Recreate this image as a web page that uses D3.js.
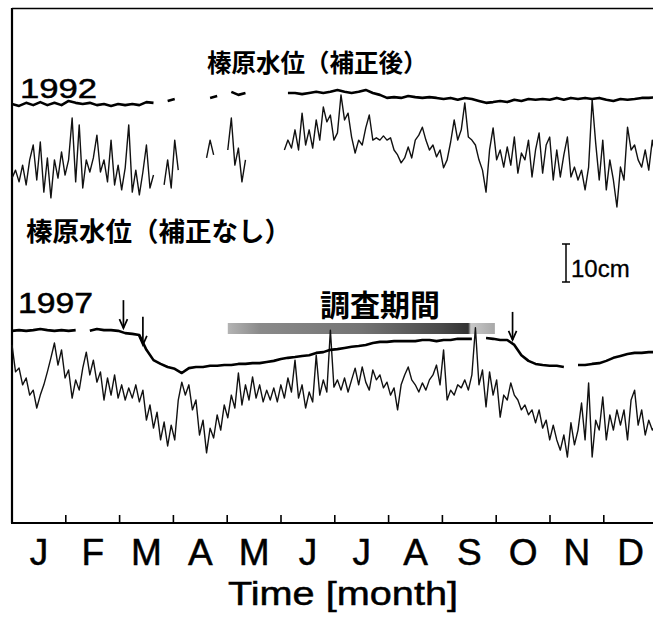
<!DOCTYPE html>
<html>
<head>
<meta charset="utf-8">
<script src="https://cdn.jsdelivr.net/npm/d3@7"></script>
<style>
  body { margin: 0; background: #fff; }
  text { font-family: "Liberation Sans", Arial, sans-serif; fill: #000; }
  .lat { stroke: #000; stroke-width: 0.5; }
  .jp { font-family: "Noto Sans CJK JP", sans-serif; }
</style>
</head>
<body>
<svg id="chart" width="653" height="623"></svg>
<script>
// month labels on the x axis
const MONTHS = ["J", "F", "M", "A", "M", "J", "J", "A", "S", "O", "N", "D"];

// uncorrected water level (cm, figure scale), one value every 2 days from 1 Jan
const RAW_1992 = [
  90.5, 92.6, 89.5, 93.9, 88.7, 95.3, 99.2, 90.0, 100.0, 86.8,
  95.8, 85.3, 95.3, 90.5, 97.4, 91.3, 95.3, 106.3, 89.5, 104.5,
  87.9, 95.3, 92.1, 95.8, 101.8, 92.1, 95.3, 89.5, 100.5, 88.7,
  93.9, 87.4, 93.2, 104.5, 86.8, 92.6, 86.1, 92.1, 99.2, 87.9,
  91.3, null, null, 88.7, 95.3, 87.9, 100.5, 92.6, null, null,
  null, null, null, null, null, 95.8, 100.5, 96.6, null, null,
  null, 97.9, 106.3, 93.9, 98.4, 89.5, 95.3, null, null, null,
  null, null, null, null, null, null, null, 97.9, 100.5, 98.4,
  103.2, 97.9, 107.6, 99.2, 103.2, 98.4, 105.8, 100.5, 109.2, 105.3,
  107.1, 100.5, 102.4, 112.4, 105.8, 107.6, 101.3, 97.1, 100.5, 99.2,
  103.7, 107.1, 100.5, 101.1, 100.5, 101.6, 100.5, 101.1, 97.9, 96.6,
  94.5, 95.8, 98.7, 95.8, 100.5, 101.8, 103.9, 100.5, 97.9, 99.2,
  96.1, 97.9, 93.2, 95.3, 100.0, 105.8, 100.5, 103.2, 110.3, 101.3,
  100.5, 99.2, 95.3, 92.6, 86.8, 97.9, 103.7, 95.3, 97.9, 93.4,
  98.7, 93.9, 101.3, 91.8, 97.1, 95.3, 100.5, 90.8, 97.9, 102.4,
  91.8, 99.2, 101.3, 90.0, 97.9, 90.8, 96.6, 101.3, 90.8, 93.4,
  90.0, 92.6, 87.4, 93.4, 111.1, 99.7, 90.0, 100.5, 87.4, 95.3,
  90.0, 82.9, 93.4, 90.0, 103.9, 97.9, 99.2, 95.3, 93.4, 97.9,
  92.6, 100.5, 95.3
];

const RAW_1997 = [
  46.6, 39.5, 40.5, 36.1, 37.9, 33.4, 34.7, 30.0, 33.4, 36.1,
  39.5, 43.2, 47.1, 41.3, 45.3, 37.9, 40.0, 32.6, 37.4, 34.7,
  40.5, 44.7, 38.7, 42.6, 36.8, 39.5, 32.1, 37.9, 33.4, 38.7,
  32.6, 36.1, 32.1, 35.3, 32.6, 36.1, 31.6, 34.7, 26.8, 30.8,
  24.7, 28.9, 21.6, 26.3, 20.0, 25.5, 21.6, 32.1, 36.8, 33.4,
  36.1, 29.5, 32.1, 22.9, 26.8, 18.2, 24.7, 22.1, 28.2, 24.2,
  30.8, 27.4, 33.4, 30.0, 39.2, 30.8, 36.1, 32.1, 38.2, 32.6,
  36.1, 31.6, 34.7, 32.1, 35.3, 31.6, 36.1, 32.6, 37.9, 34.2,
  42.6, 32.6, 36.1, 30.0, 34.2, 31.6, 43.9, 33.4, 37.4, 34.2,
  50.5, 35.5, 37.4, 34.7, 37.9, 34.2, 37.4, 40.5, 36.1, 40.8,
  36.8, 34.7, 40.0, 37.4, 38.7, 35.3, 36.8, 33.4, 35.3, 29.5,
  36.1, 38.7, 40.8, 37.4, 36.1, 34.2, 36.6, 34.7, 37.4, 38.7,
  41.3, 36.1, 45.3, 32.1, 34.7, 33.4, 36.1, 35.3, 37.4, 34.7,
  38.7, 51.1, 36.1, 40.0, 30.3, 39.5, 33.4, 37.4, 27.6, 33.4,
  32.1, 36.6, 33.4, 32.1, 29.5, 30.8, 28.2, 29.5, 26.1, 29.5,
  24.7, 26.8, 21.6, 25.5, 21.6, 18.9, 22.9, 17.1, 26.1, 20.3,
  24.2, 31.3, 21.6, 36.6, 17.1, 26.8, 24.2, 32.9, 21.6, 28.2,
  24.2, 29.5, 25.5, 29.5, 21.6, 32.1, 34.7, 25.5, 29.5, 22.9,
  26.8, 24.2, 25.5
];

// corrected water level (cm, figure scale), one value every 4 days
const COR_1992 = [
  110.0, 109.5, 110.3, 109.7, 110.5, 109.7, 110.3, 109.7, 110.8, 110.3,
  110.0, 110.3, 109.7, 110.0, 109.5, 110.0, 109.7, 110.0, 109.7, 110.5,
  110.3, null, 110.8, 111.3, null, null, null, null, 111.6, 112.1,
  null, 113.2, 112.4, 112.9, null, null, null, null, null, 112.9,
  112.9, 112.6, 112.9, 113.2, 112.9, 113.2, 113.7, 113.2, 112.9, 113.2,
  113.7, 112.9, 112.4, 111.6, 111.8, 111.6, 112.1, 111.8, 111.6, 111.8,
  111.6, 111.3, 111.6, 111.1, 111.6, 111.3, 110.8, 110.3, 110.5, 110.8,
  110.5, 111.1, 110.8, 111.3, 111.1, 111.3, 111.1, 111.6, 111.1, 111.6,
  111.3, 111.6, 111.3, 111.6, 111.1, 110.8, 111.3, 111.1, 111.3, 111.6,
  111.6, 111.8
];

const COR_1997 = [
  50.3, 50.5, 50.3, 50.5, 50.8, 50.5, 50.3, 50.5, 50.3, 50.5,
  null, 50.3, 50.8, 50.5, 50.5, 50.3, 49.7, 49.5, 49.2, 45.3,
  42.6, 41.6, 40.8, 40.3, 39.2, 40.5, 40.8, 40.8, 41.1, 41.1,
  41.3, 41.3, 41.6, 41.6, 41.8, 41.8, 42.1, 42.4, 42.9, 43.2,
  43.4, 43.7, 43.9, 44.5, 44.7, 45.3, 45.5, 45.8, 46.1, 46.3,
  46.6, 47.1, 47.4, 47.4, 47.6, 47.6, 47.6, 47.6, 47.9, 47.9,
  47.6, 47.9, 47.9, 48.2, 48.2, 48.2, null, 48.4, 48.2, 47.9,
  47.9, 46.6, 43.9, 42.4, 41.6, 41.3, 41.1, 41.1, 40.8, null,
  41.3, 41.3, 41.6, 41.8, 42.4, 43.2, 43.7, 44.2, 44.5, 44.5,
  44.7, 44.7
];

// event arrows (day of year) and survey period (start, end day)
const ARROW_DAYS_1997 = [63, 74, 283];
const SURVEY_PERIOD = [122, 273];

const RAW_STEP = 2;
const COR_STEP = 4;

const svg = d3.select("#chart");

const x = d3.scaleLinear().domain([0, 365]).range([12, 657.6]);
const xMonth = d3.scaleLinear().domain([0, 12]).range([12, 657.6]);
const y = d3.scaleLinear().domain([0, 135.26]).range([522, 8]);

function toPoints(values, step) {
  return values.map((v, i) => ({ day: i * step, v: v }));
}

const line = d3
  .line()
  .defined((d) => d.v != null)
  .x((d) => x(d.day))
  .y((d) => y(d.v));

// frame
svg.append("line").attr("x1", 12).attr("x2", 12).attr("y1", 8).attr("y2", 523)
  .attr("stroke", "#000").attr("stroke-width", 2.2);
svg.append("line").attr("x1", 12).attr("x2", 653).attr("y1", 8.5).attr("y2", 8.5)
  .attr("stroke", "#000").attr("stroke-width", 1.4);
svg.append("line").attr("x1", 11).attr("x2", 653).attr("y1", 523).attr("y2", 523)
  .attr("stroke", "#000").attr("stroke-width", 2);

// month ticks
svg.append("g")
  .selectAll("line")
  .data(d3.range(1, 12))
  .enter()
  .append("line")
  .attr("x1", (d) => xMonth(d))
  .attr("x2", (d) => xMonth(d))
  .attr("y1", 523)
  .attr("y2", 515)
  .attr("stroke", "#000")
  .attr("stroke-width", 1.6);

// month labels
svg.append("g")
  .selectAll("text")
  .data(MONTHS)
  .enter()
  .append("text")
  .attr("class", "lat")
  .attr("x", (d, i) => xMonth(i + 0.5))
  .attr("y", 565)
  .attr("text-anchor", "middle")
  .attr("font-size", 37)
  .text((d) => d);

svg.append("text")
  .attr("class", "lat")
  .attr("x", 228)
  .attr("y", 605)
  .attr("font-size", 34)
  .attr("textLength", 230)
  .attr("lengthAdjust", "spacingAndGlyphs")
  .text("Time [month]");

// survey period bar
const grad = svg.append("defs").append("linearGradient").attr("id", "survey");
[
  [0, "#b4b4b4"], [0.12, "#8a8a8a"], [0.5, "#747474"],
  [0.8, "#4a4a4a"], [0.9, "#333"], [0.91, "#c8c8c8"], [1, "#a8a8a8"],
].forEach(([o, c]) => grad.append("stop").attr("offset", o).attr("stop-color", c));

svg.append("rect")
  .attr("x", x(SURVEY_PERIOD[0]))
  .attr("y", 323)
  .attr("width", x(SURVEY_PERIOD[1]) - x(SURVEY_PERIOD[0]))
  .attr("height", 11)
  .attr("fill", "url(#survey)");

// series
const series = [
  { values: RAW_1992, step: RAW_STEP, width: 1.4, color: "#111" },
  { values: RAW_1997, step: RAW_STEP, width: 1.4, color: "#111" },
  { values: COR_1992, step: COR_STEP, width: 2.6, color: "#000" },
  { values: COR_1997, step: COR_STEP, width: 2.6, color: "#000" },
];

svg.append("g")
  .selectAll("path")
  .data(series)
  .enter()
  .append("path")
  .attr("d", (d) => line(toPoints(d.values, d.step)))
  .attr("fill", "none")
  .attr("stroke", (d) => d.color)
  .attr("stroke-width", (d) => d.width)
  .attr("stroke-linejoin", "round");

// arrows above the 1997 corrected line
const corAt = (day) => {
  const j = Math.round(day / COR_STEP);
  return COR_1997[j] != null ? COR_1997[j] : COR_1997[j - 1];
};
const arrows = svg.append("g").attr("stroke", "#000").attr("fill", "none").attr("stroke-width", 1.7);
ARROW_DAYS_1997.forEach((day) => {
  const ax = x(day);
  const tip = y(corAt(day)) - 5;
  arrows.append("line").attr("x1", ax).attr("x2", ax).attr("y1", tip - 28).attr("y2", tip);
  arrows.append("path").attr("d", `M${ax - 4},${tip - 9}L${ax},${tip}L${ax + 4},${tip - 9}`);
});

// scale bar (10 cm)
const sbX = 566;
const sbTop = 244;
const sbLen = y(0) - y(10);
const sb = svg.append("g").attr("stroke", "#000").attr("stroke-width", 1.5);
sb.append("line").attr("x1", sbX).attr("x2", sbX).attr("y1", sbTop).attr("y2", sbTop + sbLen);
sb.append("line").attr("x1", sbX - 4).attr("x2", sbX + 4).attr("y1", sbTop).attr("y2", sbTop);
sb.append("line").attr("x1", sbX - 4).attr("x2", sbX + 4).attr("y1", sbTop + sbLen).attr("y2", sbTop + sbLen);
svg.append("text").attr("class", "lat").attr("x", 571).attr("y", 277)
  .attr("font-size", 24).style("stroke-width", 0.3).text("10cm");

// year labels
svg.append("text").attr("class", "lat").attr("x", 20).attr("y", 98).attr("font-size", 28)
  .attr("textLength", 77).attr("lengthAdjust", "spacingAndGlyphs").text("1992");
svg.append("text").attr("class", "lat").attr("x", 18).attr("y", 313).attr("font-size", 29)
  .attr("textLength", 75).attr("lengthAdjust", "spacingAndGlyphs").text("1997");

// japanese labels
svg.append("text").attr("class", "jp").attr("x", 207).attr("y", 72)
  .attr("font-size", 24.5).attr("font-weight", "bold").text("榛原水位（補正後）");
svg.append("text").attr("class", "jp").attr("x", 26).attr("y", 241)
  .attr("font-size", 26.5).attr("font-weight", "bold").text("榛原水位（補正なし）");
svg.append("text").attr("class", "jp").attr("x", 320).attr("y", 316)
  .attr("font-size", 30).attr("font-weight", "bold").text("調査期間");
</script>
</body>
</html>
